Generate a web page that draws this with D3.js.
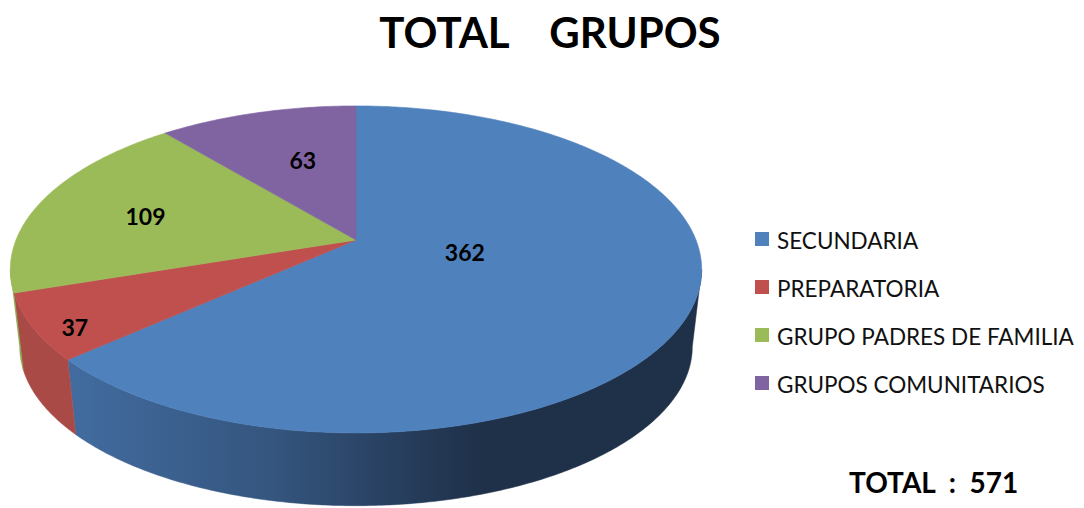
<!DOCTYPE html>
<html><head><meta charset="utf-8">
<script src="https://cdnjs.cloudflare.com/ajax/libs/d3/7.8.5/d3.min.js"></script>
<style>html,body{margin:0;padding:0;background:#fff;}svg{display:block;}</style>
</head><body>
<svg id="chart" width="1084" height="508"></svg>
<script>
// ---- data ----
const categories = ["SECUNDARIA", "PREPARATORIA", "GRUPO PADRES DE FAMILIA", "GRUPOS COMUNITARIOS"];
const values = [362, 37, 109, 63];
const topColors = ["#4f81bd", "#c0504d", "#9bbb59", "#8064a2"];
const title = "TOTAL    GRUPOS";
const totalLabel = "TOTAL  :  571";

// ---- layout / style ----
const svg = d3.select("#chart");
const cx = 356, cy = 240, A = 340, B = 158.2, P = 0.18, T = 78, S = 0.027;
const font = "Lato, 'Open Sans', sans-serif";

function proj(phi, r, h) {
  const u = r * Math.sin(phi), v = -r * Math.cos(phi);
  const s = 1 - S * h, d = 1 - P * v;
  return [cx + s * A * u / d, cy + s * B * v / d + h * T];
}
function arcPts(a0, a1, r, h) {
  const n = Math.max(2, Math.ceil(Math.abs(a1 - a0) / 0.01));
  const pts = [];
  for (let i = 0; i <= n; i++) pts.push(proj(a0 + (a1 - a0) * i / n, r, h));
  return pts;
}

const pie = d3.pie().sort(null).startAngle(0).endAngle(2 * Math.PI);
const arcs = pie(values);

const defs = svg.append("defs");
const gBlue = defs.append("linearGradient").attr("id", "sideBlue")
  .attr("gradientUnits", "userSpaceOnUse").attr("x1", 68).attr("x2", 480).attr("y1", 0).attr("y2", 0);
gBlue.append("stop").attr("offset", 0).attr("stop-color", "#426ca0");
gBlue.append("stop").attr("offset", 0.5).attr("stop-color", "#34557e");
gBlue.append("stop").attr("offset", 1).attr("stop-color", "#1f3049");
const sideFills = ["url(#sideBlue)", "#a94a46", "#88a94f", "#6e578c"];

// visible side range (silhouette)
const visA = Math.acos(-P), visB = 2 * Math.PI - Math.acos(-P);
const line = d3.line();

const gSide = svg.append("g");
arcs.forEach((a, i) => {
  const a0 = Math.max(a.startAngle, visA), a1 = Math.min(a.endAngle, visB);
  if (a1 <= a0) return;
  const top = arcPts(a0, a1, 1, 0);
  const bot = arcPts(a0, a1, 1, 1).reverse();
  gSide.append("path").attr("d", line(top.concat(bot)) + "Z")
    .attr("fill", sideFills[i]).attr("stroke", sideFills[i]).attr("stroke-width", 0.5);
});

const gTop = svg.append("g");
arcs.forEach((a, i) => {
  const pts = [proj(0, 0, 0)].concat(arcPts(a.startAngle, a.endAngle, 1, 0));
  gTop.append("path").attr("d", line(pts) + "Z")
    .attr("fill", topColors[i]).attr("stroke", topColors[i]).attr("stroke-width", 0.6);
});

// data labels
const labelR = [0.342, 0.88, 0.665, 0.5];
const labelDy = [-11, 11, 4, -11];
arcs.forEach((a, i) => {
  const m = (a.startAngle + a.endAngle) / 2;
  const [x, y] = proj(m, labelR[i], 0);
  svg.append("text").attr("x", x).attr("y", y + labelDy[i])
    .attr("text-anchor", "middle").attr("dominant-baseline", "central")
    .attr("font-family", font).attr("font-weight", "bold").attr("font-size", 23)
    .attr("fill", "#000").text(values[i]);
});

// title
svg.append("text").attr("x", 550).attr("y", 48).attr("text-anchor", "middle")
  .attr("font-family", font).attr("font-weight", "bold").attr("font-size", 42)
  .style("white-space", "pre").attr("fill", "#000").text(title);

// legend
const leg = svg.append("g").attr("transform", "translate(755,239)");
categories.forEach((c, i) => {
  const g = leg.append("g").attr("transform", `translate(0,${i * 48})`);
  g.append("rect").attr("x", 0).attr("y", -7).attr("width", 14).attr("height", 14).attr("fill", topColors[i]);
  g.append("text").attr("x", 22).attr("y", 1).attr("dominant-baseline", "central")
    .attr("font-family", font).attr("font-size", 22.5).attr("fill", "#111").text(c);
});

// total
svg.append("text").attr("x", 849).attr("y", 493)
  .attr("font-family", font).attr("font-weight", "bold").attr("font-size", 28)
  .style("white-space", "pre").attr("fill", "#000").text(totalLabel);
</script>
</body></html>
